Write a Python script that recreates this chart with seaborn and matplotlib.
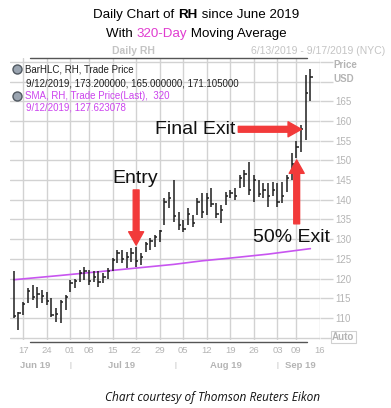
import matplotlib
matplotlib.use("Agg")
import matplotlib.pyplot as plt
import seaborn as sns
import pandas as pd
from matplotlib.lines import Line2D

# ---------------- data ----------------
highs = [122.0, 111.6, 114.1, 117.5, 118.4, 117.9, 117.1, 116.7, 115.0, 112.5,
         114.6, 115.8, 119.6, 120.0, 122.2, 123.0, 122.2, 121.8, 121.8, 121.3,
         122.6, 125.1, 127.3, 127.3, 126.8, 127.7, 128.1, 126.4, 129.4, 130.2,
         131.1, 132.3, 140.4, 142.0, 145.0, 137.0, 134.9, 137.8, 136.1, 140.4,
         141.7, 141.6, 143.0, 139.1, 138.7, 142.0, 142.5, 142.9, 146.3, 147.6,
         149.7, 146.3, 145.0, 144.2, 144.2, 144.6, 144.2, 144.6, 146.3, 151.8,
         154.8, 159.0, 171.7, 173.2]
lows = [109.9, 107.0, 110.8, 113.7, 114.6, 112.5, 113.7, 113.3, 110.3, 109.0,
        108.7, 112.0, 116.7, 117.5, 119.2, 119.6, 118.4, 119.2, 117.9, 118.8,
        120.0, 121.8, 124.0, 123.9, 122.6, 124.3, 123.0, 123.5, 126.8, 127.3,
        128.1, 129.4, 133.6, 137.8, 134.4, 132.3, 131.9, 133.6, 133.2, 136.1,
        135.4, 136.1, 138.2, 135.3, 134.0, 138.7, 140.4, 140.0, 142.9, 143.3,
        141.2, 139.5, 140.8, 140.4, 138.2, 141.0, 138.2, 139.1, 142.0, 145.0,
        150.6, 152.2, 155.2, 165.0]
closes = [110.5, 111.2, 113.5, 116.8, 115.2, 116.0, 115.5, 114.2, 110.8, 111.0,
          114.0, 115.3, 118.8, 119.5, 121.5, 122.0, 119.5, 120.5, 119.0, 120.5,
          122.0, 124.8, 126.5, 125.0, 125.5, 126.5, 124.5, 125.5, 128.8, 129.5,
          130.5, 132.0, 139.5, 140.5, 136.0, 133.5, 132.5, 136.5, 134.0, 139.5,
          137.0, 140.5, 139.0, 136.5, 137.5, 141.0, 141.8, 141.0, 145.5, 146.5,
          142.5, 145.0, 141.5, 142.5, 141.0, 142.5, 139.5, 141.0, 145.5, 149.0,
          153.5, 158.0, 167.0, 171.1]

sma_idx = [0, 10, 22, 34, 40, 46, 54, 63]
sma_vals = [119.7, 120.8, 122.2, 123.6, 124.5, 125.2, 126.2, 127.6]

xtick_idx = [2, 7, 12, 16, 21, 26, 31, 36, 41, 46, 51, 56, 60, 65]
xtick_labels = ["17", "24", "01", "08", "15", "22", "29", "05", "12", "19", "26", "03", "09", "16"]
month_labels = ["Jun 19", "Jul 19", "Aug 19", "Sep 19"]
month_pos = [4.5, 23.0, 45.0, 60.8]
month_sep = [12.1, 34.3, 56.0]

ytick_vals = [105, 110, 115, 120, 125, 130, 135, 140, 145, 150, 155, 160, 165, 170, 175]

df = pd.DataFrame({"idx": range(len(highs)), "high": highs, "low": lows, "close": closes})
sma = pd.DataFrame({"idx": sma_idx, "sma": sma_vals})

# ---------------- figure ----------------
sns.set_theme(style="white")
plt.rcParams["font.family"] = ["Liberation Sans", "DejaVu Sans"]

W, H = 391, 408
fig = plt.figure(figsize=(W / 100, H / 100), dpi=100)
L, R, T, B = 10, 320, 58, 340
ax = fig.add_axes([L / W, 1 - B / H, (R - L) / W, (B - T) / H])

GRID = "#d2d2d2"
LBL = "#b4b4b4"
RED = "#f23a3a"
MAG = "#cc44ee"

for v in ytick_vals:
    ax.axhline(v, color=GRID, lw=1, zorder=0)
for v in xtick_idx:
    ax.axvline(v, color=GRID, lw=1, zorder=0)

ax.vlines(df["idx"], df["low"], df["high"], color="#1e1e1e", lw=1.1, zorder=3)
ax.hlines(df["close"], df["idx"], df["idx"] + 0.5, color="#1e1e1e", lw=1.1, zorder=3)

sns.lineplot(data=sma, x="idx", y="sma", ax=ax, color="#c855f0", lw=1.2, zorder=2)

ax.set_xlim(-0.79, 65.05)
ax.set_ylim(104.4, 176.0)
ax.set_xlabel("")
ax.set_ylabel("")
for s in ax.spines.values():
    s.set_visible(False)

ax.yaxis.tick_right()
ylabels = [""] + [str(v) for v in ytick_vals[1:-2]] + ["", ""]
ax.set_yticks(ytick_vals, ylabels)
ax.tick_params(axis="y", which="both", right=True, length=9, width=1, color=GRID,
               labelcolor=LBL, labelsize=7, pad=2)
ax.set_xticks(xtick_idx, xtick_labels)
ax.tick_params(axis="x", bottom=False, length=0, labelcolor=LBL, labelsize=6.8, pad=4)

# Price / USD / Auto labels on the right axis
fig.text(333 / W, 1 - 65 / H, "Price", color=LBL, fontsize=7, fontweight="bold", va="center")
fig.text(333 / W, 1 - 79 / H, "USD", color=LBL, fontsize=7, fontweight="bold", va="center")
fig.text(332 / W, 1 - 337 / H, "Auto", color=LBL, fontsize=7, fontweight="bold", va="center",
         bbox=dict(boxstyle="square,pad=0.15", fc="white", ec="#d0d0d0", lw=0.8))

# month labels
for m, p in zip(month_labels, month_pos):
    ax.text(p, -0.092, m, transform=ax.get_xaxis_transform(), ha="center", va="center",
            color=LBL, fontsize=6.8, fontweight="bold")
for p in month_sep:
    ax.text(p, -0.092, "|", transform=ax.get_xaxis_transform(), ha="center", va="center",
            color=LBL, fontsize=5.5)

# header / footer lines
fig.add_artist(Line2D([30 / W, 307 / W], [1 - 58 / H, 1 - 58 / H], color="#555555", lw=1))
fig.add_artist(Line2D([30 / W, 307 / W], [1 - 342 / H, 1 - 342 / H], color="#555555", lw=1))

fig.text(133 / W, 1 - 51 / H, "Daily RH", color="#c4c4c4", fontsize=7.5, fontweight="bold",
         ha="center", va="center")
fig.text(385 / W, 1 - 51 / H, "6/13/2019 - 9/17/2019 (NYC)", color="#c4c4c4", fontsize=7.5,
         ha="right", va="center")

# legend block
for yy in (69, 96):
    fig.add_artist(Line2D([17 / W], [1 - yy / H], marker="o", markersize=6.5,
                          markerfacecolor="#9aa4b0", markeredgecolor="#505860", lw=0))
fig.text(25 / W, 1 - 70 / H, "BarHLC, RH, Trade Price", color="#202020", fontsize=7, va="center")
fig.text(26 / W, 1 - 83 / H, "9/12/2019, 173.200000, 165.000000, 171.105000", color="#202020",
         fontsize=7, va="center")
fig.text(25 / W, 1 - 96 / H, "SMA, RH, Trade Price(Last),  320", color=MAG, fontsize=7, va="center")
fig.text(26 / W, 1 - 108 / H, "9/12/2019, 127.623078", color=MAG, fontsize=7, va="center")

# annotations
arrow_kw = dict(arrowstyle="simple,head_length=0.8,head_width=0.9,tail_width=0.35",
                color=RED, shrinkA=0, shrinkB=0)
ax.annotate("", xy=(26.0, 128.5), xytext=(26.0, 142.5), arrowprops=arrow_kw, zorder=5)
ax.annotate("", xy=(61.1, 157.9), xytext=(47.7, 157.9), arrowprops=arrow_kw, zorder=5)
ax.annotate("", xy=(60.1, 150.1), xytext=(60.1, 133.9), arrowprops=arrow_kw, zorder=5)
ax.text(25.8, 145.4, "Entry", fontsize=14, ha="center", va="center", color="#111111", zorder=6)
ax.text(38.6, 157.8, "Final Exit", fontsize=14, ha="center", va="center", color="#111111", zorder=6)
ax.text(59.1, 130.4, "50% Exit", fontsize=14, ha="center", va="center", color="#111111", zorder=6)

# title with mixed styles
renderer = fig.canvas.get_renderer()


def line_of_segments(y_px, segments, size, cx_px=196):
    arts = []
    for txt, kw in segments:
        t = fig.text(0, 1 - y_px / H, txt, fontsize=size, va="center", **kw)
        arts.append(t)
    widths = [a.get_window_extent(renderer).width for a in arts]
    x = cx_px - sum(widths) / 2
    for a, w in zip(arts, widths):
        a.set_x(x / W)
        x += w


line_of_segments(15, [("Daily Chart of ", {"color": "black"}),
                      ("RH", {"color": "black", "fontweight": "bold"}),
                      (" since June 2019", {"color": "black"})], 9.6)
line_of_segments(34, [("With ", {"color": "black"}),
                      ("320-Day", {"color": "#e03cd0"}),
                      (" Moving Average", {"color": "black"})], 9.6)

fig.text(213 / W, 1 - 397 / H, "Chart courtesy of Thomson Reuters Eikon", fontsize=8.6,
         style="italic", ha="center", va="center", color="#111111", family=["Open Sans", "DejaVu Sans"])

fig.savefig("out.png", dpi=100)
